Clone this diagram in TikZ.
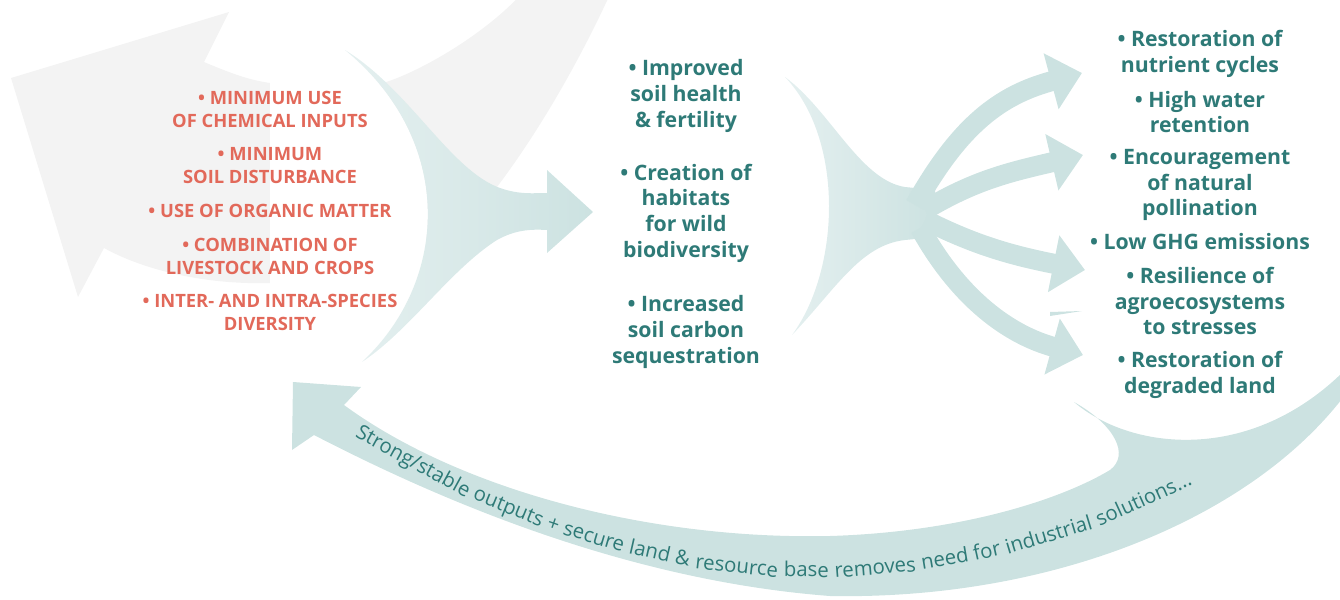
\documentclass[tikz,border=0pt]{standalone}
\usepackage{fontspec}
\setmainfont{Open Sans}
\usetikzlibrary{arrows.meta,decorations.markings}

\definecolor{greyarrow}{HTML}{F3F3F3}
\definecolor{tealfill}{HTML}{CCE2E1}
\definecolor{teallight}{HTML}{E5F0F0}
\definecolor{tealtext}{HTML}{2E7A77}
\definecolor{redtext}{HTML}{E2695A}

\tikzset{
  practice/.style={text=redtext, align=center, inner sep=0pt, font=\bfseries\fontsize{10.45}{13.1}\selectfont},
  outcome/.style={text=tealtext, align=center, inner sep=0pt, font=\bfseries\fontsize{12.1}{14.6}\selectfont},
  bandword/.style={text=tealtext, inner sep=0pt, anchor=base, yshift=-0.1cm, transform shape, font=\fontsize{11.6}{13}\selectfont},
  branch/.style={draw=tealfill, line width=0.4cm, -{Triangle[length=0.64cm,width=1.12cm]}}
}

\begin{document}
\begin{tikzpicture}[x=0.02cm,y=-0.02cm]
  \useasboundingbox (0,0) rectangle (1340,599);
  \clip (0,0) rectangle (1340,599);
  % Grey arrow in the back
  \fill[greyarrow] (11,78) -- (229,12) -- (204,62) .. controls (235,75) and (250,80) .. (270,83)
    .. controls (320,90) and (360,92) .. (392,80) .. controls (430,66) and (490,30) .. (525,-10)
    -- (612,-10) .. controls (580,60) and (540,130) .. (497,187)
    .. controls (440,240) and (360,280) .. (270,283) .. controls (200,285) and (140,268) .. (104,248)
    -- (78,297) -- cycle;
  \fill[white] (270,40) -- (345,50) .. controls (455,140) and (450,280) .. (362,362) -- (270,362) -- cycle;
  % Return arrow at the bottom
  \fill[tealfill] (293,382) -- (361,387) -- (344,405) .. controls (460,490) and (650,540) .. (830,536)
    .. controls (960,532) and (1060,500) .. (1110,470) .. controls (1130,455) and (1115,425) .. (1074,402)
    .. controls (1130,450) and (1250,465) .. (1345,370) -- (1345,395)
    .. controls (1250,520) and (1050,600) .. (830,596) .. controls (620,580) and (430,495) .. (314,435)
    -- (292,450) -- cycle;
  \path[decorate, decoration={markings,
      mark=at position 1.274cm with {\node[bandword] (w1) {Strong/stable};},
      mark=at position 3.392cm with {\node[bandword] (w2) {outputs};},
      mark=at position 4.35cm with {\node[bandword] (w3) {+};},
      mark=at position 5.204cm with {\node[bandword] (w4) {secure};},
      mark=at position 6.362cm with {\node[bandword] (w5) {land};},
      mark=at position 7.032cm with {\node[bandword] (w6) {\&};},
      mark=at position 8.128cm with {\node[bandword] (w7) {resource};},
      mark=at position 9.528cm with {\node[bandword] (w8) {base};},
      mark=at position 10.908cm with {\node[bandword] (w9) {removes};},
      mark=at position 12.316cm with {\node[bandword] (w10) {need};},
      mark=at position 13.174cm with {\node[bandword] (w11) {for};},
      mark=at position 14.454cm with {\node[bandword] (w12) {industrial};},
      mark=at position 16.486cm with {\node[bandword] (w13) {solutions...};}}]
    (358,430) .. controls (480,510) and (650,572) .. (812,572) .. controls (960,572) and (1100,530) .. (1197,474);
  % Practices into outcomes
  \shade[left color=teallight, right color=tealfill] (345,50) .. controls (410,90) and (450,170) .. (500,188)
    .. controls (520,195) and (535,193) .. (547,193) -- (547,170) -- (593,212) -- (547,253) -- (547,230)
    .. controls (530,229) and (515,230) .. (497,240) .. controls (450,270) and (410,330) .. (362,362)
    .. controls (450,280) and (455,140) .. (345,50) -- cycle;
  % Fan towards the benefits
  \shade[left color=teallight, right color=tealfill] (785,77) .. controls (830,110) and (860,180) .. (905,187)
    -- (935,190) -- (935,237) -- (905,240) .. controls (860,245) and (835,290) .. (792,335)
    .. controls (840,270) and (845,140) .. (785,77) -- cycle;
  \draw[branch] (915,205) .. controls (960,125) and (1000,95) .. (1082,73);
  \draw[branch] (925,210) .. controls (975,180) and (1010,172) .. (1083,155);
  \draw[branch] (925,220) .. controls (975,245) and (1010,255) .. (1085,270);
  \draw[branch] (920,228) .. controls (960,300) and (1010,335) .. (1083,355);
  \fill[tealfill] (1050,312) -- (1082,311) -- (1050,316) -- cycle;
  % Practices
  \node[practice] (chem) at (270,109) {\textbullet{} MINIMUM USE\\OF CHEMICAL INPUTS};
  \node[practice] (soil) at (270,166) {\textbullet{} MINIMUM\\SOIL DISTURBANCE};
  \node[practice] (organic) at (270,211) {\textbullet{} USE OF ORGANIC MATTER};
  \node[practice] (livestock) at (270,256) {\textbullet{} COMBINATION OF\\LIVESTOCK AND CROPS};
  \node[practice] (species) at (270,312) {\textbullet{} INTER- AND INTRA-SPECIES\\DIVERSITY};
  % Direct effects
  \node[outcome] (health) at (686,96) {\textbullet{} Improved\\soil health\\\& fertility};
  \node[outcome] (habitat) at (686,213) {\textbullet{} Creation of\\habitats\\for wild\\biodiversity};
  \node[outcome] (carbon) at (686,332) {\textbullet{} Increased\\soil carbon\\sequestration};
  % Benefits
  \node[outcome] (nutrient) at (1200,54) {\textbullet{} Restoration of\\nutrient cycles};
  \node[outcome] (water) at (1200,112) {\textbullet{} High water\\retention};
  \node[outcome] (pollin) at (1200,185) {\textbullet{} Encouragement\\of natural\\pollination};
  \node[outcome] (ghg) at (1200,242) {\textbullet{} Low GHG emissions};
  \node[outcome] (resil) at (1200,301) {\textbullet{} Resilience of\\agroecosystems\\to stresses};
  \node[outcome] (land) at (1200,375) {\textbullet{} Restoration of\\degraded land};
\end{tikzpicture}
\end{document}
